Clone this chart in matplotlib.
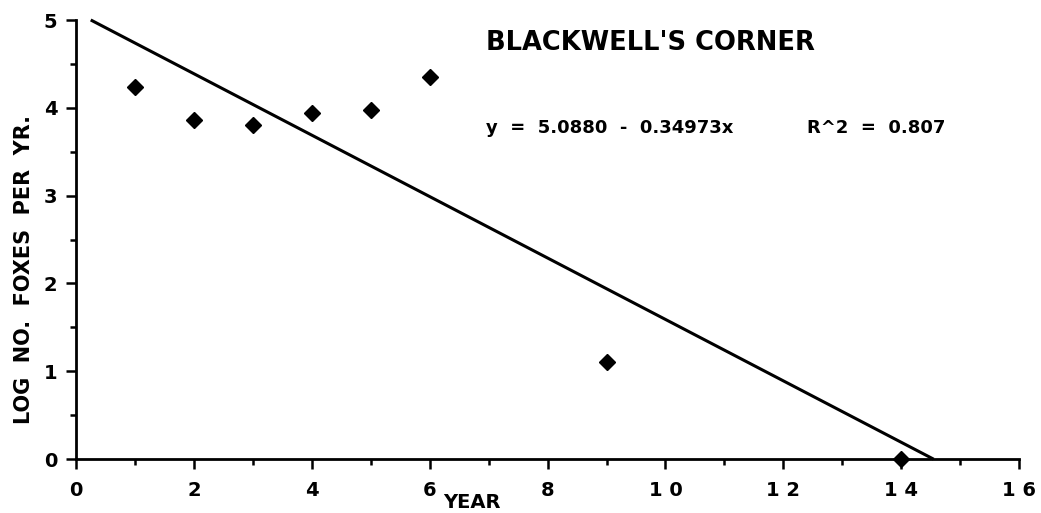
"""Log number of foxes per year at Blackwell's Corner, with fitted line."""
import matplotlib
matplotlib.use("Agg")
import matplotlib.pyplot as plt
from matplotlib.ticker import MultipleLocator, FixedLocator

years = [1, 2, 3, 4, 5, 6, 9, 14]
log_foxes = [4.24, 3.86, 3.81, 3.94, 3.97, 4.35, 1.11, 0.0]

# fitted line y = 5.0880 - 0.34973x, drawn between where it enters and leaves the plot
INTERCEPT = 5.0880
SLOPE = -0.34973
fit_x = [0.25, 14.55]
fit_y = [INTERCEPT + SLOPE * x for x in fit_x]

x_ticks = [0, 2, 4, 6, 8, 10, 12, 14, 16]
x_tick_labels = ["0", "2", "4", "6", "8", "1 0", "1 2", "1 4", "1 6"]
y_ticks = [0, 1, 2, 3, 4, 5]

plt.rcParams["font.family"] = ["DejaVu Sans"]
plt.rcParams["font.weight"] = "bold"

fig = plt.figure(figsize=(10.41, 5.13), dpi=100)
ax = fig.add_axes([0.073, 0.105, 0.906, 0.856])

ax.plot(fit_x, fit_y, color="black", lw=2.2, solid_capstyle="butt", clip_on=False)
ax.plot(years, log_foxes, "D", color="black", ms=8.3, clip_on=False, zorder=5)

ax.set_xlim(0, 16)
ax.set_ylim(0, 5)
ax.xaxis.set_major_locator(FixedLocator(x_ticks))
ax.set_xticklabels(x_tick_labels)
ax.xaxis.set_minor_locator(MultipleLocator(1))
ax.set_yticks(y_ticks)
ax.yaxis.set_minor_locator(MultipleLocator(0.5))

for side in ["top", "right"]:
    ax.spines[side].set_visible(False)
for side in ["left", "bottom"]:
    ax.spines[side].set_linewidth(2)

ax.tick_params(which="major", length=7.5, width=1.8, labelsize=14, direction="out")
ax.tick_params(which="minor", length=4.5, width=1.8, direction="out")
ax.tick_params(axis="y", pad=6)
ax.tick_params(axis="x", pad=8)
for lab in ax.get_xticklabels() + ax.get_yticklabels():
    lab.set_fontweight("bold")

fig.text(24 / 1041, 1 - 270 / 513, "LOG  NO.  FOXES  PER  YR.", fontsize=15,
         fontweight="bold", rotation=90, ha="center", va="center")
ax.text(6.23, -0.557, "YEAR", fontsize=14, fontweight="bold", ha="left",
        va="baseline", clip_on=False)

ax.text(6.95, 4.74, "BLACKWELL'S CORNER", fontsize=18.5, fontweight="bold",
        ha="left", va="center")
ax.text(6.95, 3.77, "y  =  5.0880  -  0.34973x", fontsize=13, fontweight="bold",
        ha="left", va="center")
ax.text(12.4, 3.77, "R^2  =  0.807", fontsize=13, fontweight="bold",
        ha="left", va="center")

fig.savefig("out.png", dpi=100)
